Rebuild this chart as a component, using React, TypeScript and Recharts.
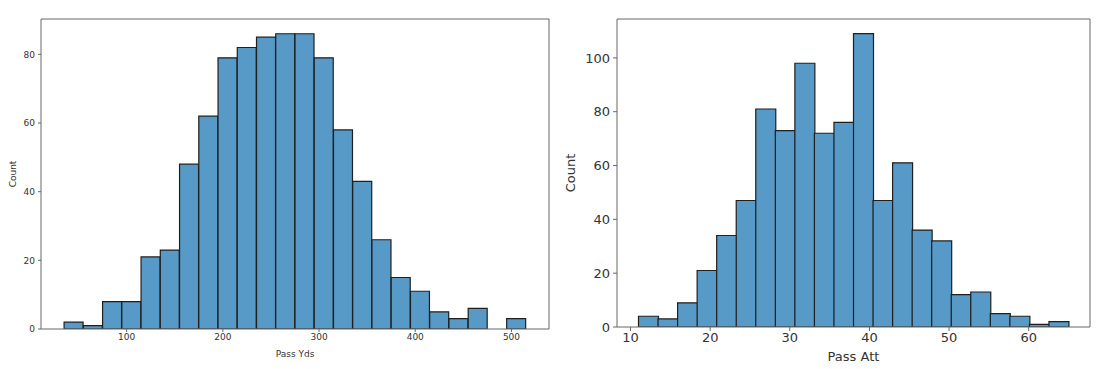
import React from "react";
import {
  ComposedChart,
  Bar,
  XAxis,
  YAxis,
  ReferenceLine,
} from "recharts";

// Pass Yds histogram: 24 bins of 20 yards starting at 35
const yardsBinStart = 35;
const yardsBinWidth = 20;
const yardsCounts = [2, 1, 8, 8, 21, 23, 48, 62, 79, 82, 85, 86, 86, 79, 58, 43, 26, 15, 11, 5, 3, 6, 0, 3];
const yardsTicks = [100, 200, 300, 400, 500];
const yardsCountTicks = [0, 20, 40, 60, 80];

// Pass Att histogram: 22 bins from 11 to 65
const attBinStart = 11;
const attBinEnd = 65;
const attCounts = [4, 3, 9, 21, 34, 47, 81, 73, 98, 72, 76, 109, 47, 61, 36, 32, 12, 13, 5, 4, 1, 2];
const attTicks = [10, 20, 30, 40, 50, 60];
const attCountTicks = [0, 20, 40, 60, 80, 100];

const FILL = "#5799c7";
const EDGE = "#1f1f1f";
const FRAME = "#666";
const FONT = "DejaVu Sans, sans-serif";

const toBins = (start: number, width: number, counts: number[]) =>
  counts.map((count, i) => ({ mid: start + (i + 0.5) * width, count }));

const yardsData = toBins(yardsBinStart, yardsBinWidth, yardsCounts);
const attWidth = (attBinEnd - attBinStart) / attCounts.length;
const attData = toBins(attBinStart, attWidth, attCounts);

type HistProps = {
  data: { mid: number; count: number }[];
  width: number;
  height: number;
  xDomain: [number, number];
  yDomain: [number, number];
  xTicks: number[];
  yTicks: number[];
  xLabel: string;
  fontSize: number;
  yAxisWidth: number;
  marginRight: number;
  xAxisHeight: number;
  tickSize: number;
  labelOffsetX: number;
  labelOffsetY: number;
};

const Histogram = ({
  data, width, height, xDomain, yDomain, xTicks, yTicks, xLabel, fontSize,
  yAxisWidth, marginRight, xAxisHeight, tickSize, labelOffsetX, labelOffsetY,
}: HistProps) => {
  const tickStyle = { fill: "#333", fontSize, fontFamily: FONT };
  return (
    <ComposedChart
      width={width}
      height={height}
      data={data}
      margin={{ top: 19, right: marginRight, bottom: 0, left: 0 }}
      barCategoryGap={0}
      barGap={0}
    >
      <XAxis
        type="number"
        dataKey="mid"
        domain={xDomain}
        ticks={xTicks}
        allowDataOverflow
        height={xAxisHeight}
        stroke={FRAME}
        tickSize={tickSize}
        tickMargin={2}
        tick={tickStyle}
        label={{ value: xLabel, position: "insideBottom", offset: labelOffsetX, style: { ...tickStyle } }}
      />
      <YAxis
        domain={yDomain}
        ticks={yTicks}
        allowDataOverflow
        width={yAxisWidth}
        stroke={FRAME}
        tickSize={tickSize}
        tickMargin={3}
        tick={tickStyle}
        label={{ value: "Count", angle: -90, position: "insideLeft", offset: labelOffsetY, style: { ...tickStyle, textAnchor: "middle" } }}
      />
      <Bar
        dataKey="count"
        fill={FILL}
        stroke={EDGE}
        strokeWidth={1.2}
        isAnimationActive={false}
      />
      <ReferenceLine y={yDomain[1]} stroke={FRAME} strokeWidth={1} ifOverflow="extendDomain" />
      <ReferenceLine x={xDomain[1]} stroke={FRAME} strokeWidth={1} ifOverflow="extendDomain" />
    </ComposedChart>
  );
};

export default function App() {
  return (
    <div style={{ position: "absolute", left: 0, top: 0, width: 1099, height: 369, background: "#fff" }}>
      <div style={{ position: "absolute", left: 0, top: 0 }}>
        <Histogram
          data={yardsData}
          width={560}
          height={369}
          xDomain={[11, 539]}
          yDomain={[0, 90.3]}
          xTicks={yardsTicks}
          yTicks={yardsCountTicks}
          xLabel="Pass Yds"
          fontSize={9}
          yAxisWidth={41}
          marginRight={11}
          xAxisHeight={40}
          tickSize={3}
          labelOffsetX={12}
          labelOffsetY={13}
        />
      </div>
      <div style={{ position: "absolute", left: 560, top: 0 }}>
        <Histogram
          data={attData}
          width={539}
          height={369}
          xDomain={[8.3, 67.7]}
          yDomain={[0, 114.45]}
          xTicks={attTicks}
          yTicks={attCountTicks}
          xLabel="Pass Att"
          fontSize={13}
          yAxisWidth={57}
          marginRight={9}
          xAxisHeight={42}
          tickSize={4}
          labelOffsetX={8}
          labelOffsetY={10}
        />
      </div>
    </div>
  );
}
